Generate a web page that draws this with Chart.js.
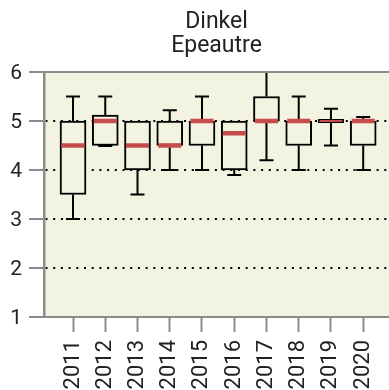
<!DOCTYPE html>
<html>
<head>
<meta charset="utf-8">
<script src="https://cdn.jsdelivr.net/npm/chart.js@4/dist/chart.umd.min.js"></script>
<style>
  html, body { margin: 0; padding: 0; background: #ffffff; }
  #wrap { width: 389px; height: 390px; position: relative; }
</style>
</head>
<body>
<div id="wrap"><canvas id="c" width="389" height="390"></canvas></div>
<script>
// ---- data ----
const titleLines = ["Dinkel", "Epeautre"];
const years   = [2011, 2012, 2013, 2014, 2015, 2016, 2017, 2018, 2019, 2020];
const mins    = [3.0, 4.5, 3.5, 4.0, 4.0, 3.9, 4.2, 4.0, 4.5, 4.0];
const q1s     = [3.5, 4.5, 4.0, 4.5, 4.5, 4.0, 5.0, 4.5, 5.0, 4.5];
const medians = [4.5, 5.0, 4.5, 4.5, 5.0, 4.75, 5.0, 5.0, 5.0, 5.0];
const q3s     = [5.0, 5.12, 5.0, 5.0, 5.0, 5.0, 5.5, 5.0, 5.0, 5.0];
const maxs    = [5.5, 5.5, 5.0, 5.22, 5.5, 5.0, 6.0, 5.5, 5.25, 5.08];
const yTicks  = [1, 2, 3, 4, 5, 6];

const PLOT_BG = '#F3F3E2';
const AXIS_GRAY = '#8C8C8C';
const MEDIAN_RED = '#C84B4B';
const BOX_W = 26;
const CAP_W = 14;

Chart.defaults.font.family = 'Roboto, "Liberation Sans", sans-serif';
Chart.defaults.color = '#222222';

const bgPlugin = {
  id: 'plotBg',
  beforeDraw(chart) {
    const {ctx, chartArea: a} = chart;
    ctx.save();
    ctx.fillStyle = PLOT_BG;
    ctx.fillRect(a.left, a.top, a.right - a.left, a.bottom - a.top);
    ctx.restore();
  },
  afterDraw(chart) {
    const {ctx, chartArea: a} = chart;
    ctx.save();
    ctx.strokeStyle = AXIS_GRAY;
    ctx.lineWidth = 2;
    ctx.beginPath();
    ctx.moveTo(a.left, a.top);
    ctx.lineTo(a.right, a.top);
    ctx.stroke();
    ctx.restore();
  }
};

const whiskerPlugin = {
  id: 'whiskers',
  afterDatasetsDraw(chart) {
    const {ctx, scales: {x, y}} = chart;
    ctx.save();
    ctx.lineCap = 'butt';
    years.forEach((yr, i) => {
      const cx = x.getPixelForValue(yr);
      const yMin = y.getPixelForValue(mins[i]);
      const yQ1 = y.getPixelForValue(q1s[i]);
      const yMed = y.getPixelForValue(medians[i]);
      const yQ3 = y.getPixelForValue(q3s[i]);
      const yMax = y.getPixelForValue(maxs[i]);
      ctx.strokeStyle = '#000';
      ctx.lineWidth = 2;
      if (maxs[i] > q3s[i]) {
        ctx.beginPath();
        ctx.moveTo(cx, yQ3); ctx.lineTo(cx, yMax);
        ctx.moveTo(cx - CAP_W / 2, yMax); ctx.lineTo(cx + CAP_W / 2, yMax);
        ctx.stroke();
      }
      if (mins[i] <= q1s[i]) {
        ctx.beginPath();
        ctx.moveTo(cx, yQ1); ctx.lineTo(cx, yMin);
        ctx.moveTo(cx - CAP_W / 2, yMin); ctx.lineTo(cx + CAP_W / 2, yMin);
        ctx.lineWidth = (mins[i] === q1s[i]) ? 3 : 2;
        ctx.stroke();
        ctx.lineWidth = 2;
      }
      if (q1s[i] === q3s[i]) {
        ctx.lineWidth = 4;
        ctx.beginPath();
        ctx.moveTo(cx - BOX_W / 2, yQ1); ctx.lineTo(cx + BOX_W / 2, yQ1);
        ctx.stroke();
      }
      ctx.strokeStyle = MEDIAN_RED;
      ctx.lineWidth = (q1s[i] === q3s[i]) ? 2 : 4.5;
      ctx.beginPath();
      ctx.moveTo(cx - BOX_W / 2 + 1.5, yMed); ctx.lineTo(cx + BOX_W / 2 - 1.5, yMed);
      ctx.stroke();
    });
    ctx.restore();
  }
};

new Chart(document.getElementById('c'), {
  type: 'bar',
  data: {
    datasets: [{
      data: years.map((yr, i) => ({x: yr, y: [q1s[i], q3s[i]]})),
      backgroundColor: PLOT_BG,
      borderColor: '#000000',
      borderWidth: 2,
      borderSkipped: false,
      barThickness: BOX_W
    }]
  },
  options: {
    responsive: false,
    animation: false,
    events: [],
    layout: { padding: { left: 0, right: 0, top: 0, bottom: 0 } },
    plugins: {
      legend: { display: false },
      tooltip: { enabled: false },
      title: {
        display: true,
        text: titleLines,
        fullSize: false,
        color: '#222222',
        font: { size: 23, weight: 'normal', lineHeight: 1.05 },
        padding: { top: 10, bottom: 13.7 }
      }
    },
    scales: {
      x: {
        type: 'linear',
        min: 2010.1,
        max: 2020.8,
        offset: false,
        afterBuildTicks: (s) => { s.ticks = years.map(v => ({value: v})); },
        afterFit: (s) => { s.height = 73; s.paddingLeft = 0; s.paddingRight = 0; },
        ticks: {
          autoSkip: false,
          minRotation: 90,
          maxRotation: 90,
          padding: 8,
          color: '#222222',
          font: { size: 22 },
          callback: (v) => String(v)
        },
        grid: {
          offset: false,
          drawOnChartArea: false,
          drawTicks: true,
          tickLength: 15,
          tickColor: AXIS_GRAY,
          tickWidth: 2
        },
        border: { display: true, color: AXIS_GRAY, width: 2 }
      },
      y: {
        type: 'linear',
        min: 1,
        max: 6,
        beginAtZero: false,
        afterBuildTicks: (s) => { s.ticks = yTicks.map(v => ({value: v})); },
        afterFit: (s) => { s.width = 44; },
        ticks: {
          padding: 7,
          labelOffset: 2,
          color: '#222222',
          font: { size: 21 },
          callback: (v) => String(v)
        },
        grid: {
          drawTicks: true,
          tickLength: 15,
          tickColor: AXIS_GRAY,
          tickWidth: 2,
          lineWidth: 2,
          color: (ctx) => {
            const v = ctx.tick ? ctx.tick.value : null;
            return (v !== null && v > 1 && v < 6) ? '#000000' : 'rgba(0,0,0,0)';
          },
          tickBorderDash: []
        },
        border: { display: true, color: AXIS_GRAY, width: 2.5, dash: [2, 5.7] }
      }
    }
  },
  plugins: [bgPlugin, whiskerPlugin]
});
</script>
</body>
</html>
